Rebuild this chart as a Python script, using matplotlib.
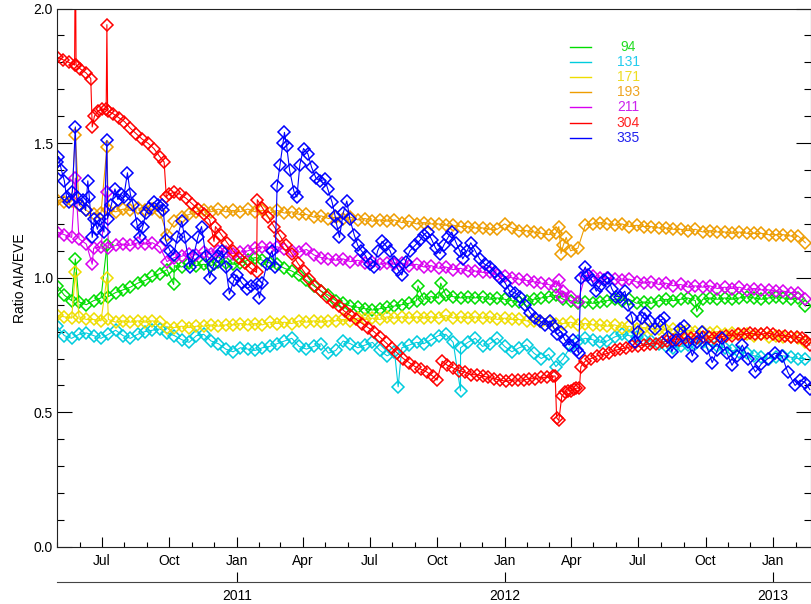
import numpy as np
import pandas as pd
import matplotlib
matplotlib.use("Agg")
import matplotlib.pyplot as plt
import matplotlib.dates as mdates
from matplotlib.ticker import MultipleLocator, FixedLocator

plt.rcParams['font.family'] = ['Liberation Sans', 'DejaVu Sans']

START = pd.Timestamp('2010-05-01')

# regular 10-day sampling dates for the smoother channels
grid_dates = pd.date_range(START, periods=103, freq='10D')

ratio_94 = [0.97, 0.935, 0.915, 0.91, 0.90, 0.915, 0.925, 0.93, 0.945, 0.955,
            0.965, 0.98, 0.99, 1.005, 1.015, 1.03, 1.045, 1.04, 1.055, 1.045,
            1.05, 1.045, 1.06, 1.055, 1.05, 1.055, 1.065, 1.075, 1.065, 1.055,
            1.05, 1.035, 1.025, 1.01, 0.99, 0.97, 0.95, 0.935, 0.915, 0.905,
            0.895, 0.89, 0.885, 0.88, 0.885, 0.89, 0.895, 0.90, 0.905, 0.915,
            0.92, 0.93, 0.925, 0.935, 0.93, 0.925, 0.93, 0.925, 0.93, 0.92,
            0.925, 0.92, 0.915, 0.91, 0.915, 0.92, 0.925, 0.93, 0.935, 0.92,
            0.915, 0.905, 0.91, 0.905, 0.91, 0.915, 0.92, 0.915, 0.92, 0.905,
            0.91, 0.905, 0.915, 0.92, 0.915, 0.92, 0.925, 0.915, 0.92, 0.925,
            0.92, 0.925, 0.92, 0.925, 0.93, 0.925, 0.92, 0.925, 0.93, 0.925,
            0.92, 0.925, 0.895]

ratio_131 = [0.82, 0.785, 0.775, 0.79, 0.795, 0.785, 0.775, 0.79, 0.805, 0.785,
             0.775, 0.79, 0.80, 0.805, 0.81, 0.795, 0.785, 0.77, 0.76, 0.785,
             0.79, 0.765, 0.755, 0.735, 0.725, 0.74, 0.735, 0.73, 0.74, 0.745,
             0.755, 0.765, 0.775, 0.745, 0.735, 0.745, 0.755, 0.72, 0.73, 0.765,
             0.755, 0.74, 0.75, 0.76, 0.73, 0.71, 0.725, 0.74, 0.75, 0.76,
             0.755, 0.77, 0.785, 0.79, 0.76, 0.74, 0.76, 0.775, 0.745, 0.755,
             0.775, 0.745, 0.725, 0.74, 0.75, 0.72, 0.70, 0.715, 0.67, 0.70,
             0.745, 0.765, 0.775, 0.77, 0.76, 0.765, 0.78, 0.79, 0.785, 0.78,
             0.77, 0.765, 0.755, 0.745, 0.74, 0.745, 0.75, 0.755, 0.76, 0.75,
             0.745, 0.74, 0.73, 0.725, 0.72, 0.71, 0.705, 0.70, 0.705, 0.71,
             0.705, 0.70, 0.70]

ratio_171 = [0.86, 0.855, 0.85, 0.855, 0.845, 0.845, 0.84, 0.845, 0.835, 0.84,
             0.835, 0.84, 0.835, 0.84, 0.835, 0.815, 0.815, 0.82, 0.815, 0.82,
             0.82, 0.825, 0.82, 0.825, 0.825, 0.83, 0.825, 0.83, 0.825, 0.835,
             0.83, 0.835, 0.83, 0.84, 0.835, 0.84, 0.835, 0.84, 0.84, 0.845,
             0.84, 0.85, 0.845, 0.85, 0.845, 0.855, 0.85, 0.855, 0.85, 0.855,
             0.85, 0.855, 0.85, 0.86, 0.85, 0.855, 0.85, 0.855, 0.85, 0.855,
             0.845, 0.85, 0.845, 0.845, 0.84, 0.84, 0.835, 0.835, 0.83, 0.83,
             0.835, 0.825, 0.83, 0.825, 0.825, 0.82, 0.825, 0.815, 0.82, 0.81,
             0.815, 0.81, 0.81, 0.805, 0.81, 0.80, 0.805, 0.80, 0.80, 0.795,
             0.80, 0.79, 0.795, 0.79, 0.79, 0.785, 0.79, 0.78, 0.785, 0.78,
             0.78, 0.775, 0.76]

ratio_193 = [1.29, 1.28, 1.285, 1.27, 1.25, 1.235, 1.24, 1.25, 1.245, 1.255,
             1.25, 1.26, 1.25, 1.255, 1.245, 1.16, 1.21, 1.225, 1.235, 1.245,
             1.25, 1.245, 1.255, 1.245, 1.25, 1.245, 1.255, 1.245, 1.25, 1.24,
             1.25, 1.24, 1.245, 1.235, 1.235, 1.225, 1.23, 1.22, 1.225, 1.22,
             1.225, 1.215, 1.22, 1.21, 1.215, 1.21, 1.215, 1.205, 1.21, 1.20,
             1.205, 1.20, 1.20, 1.195, 1.195, 1.19, 1.19, 1.185, 1.185, 1.18,
             1.18, 1.20, 1.185, 1.175, 1.175, 1.17, 1.165, 1.16, 1.165, 1.12,
             1.10, 1.11, 1.195, 1.20, 1.205, 1.20, 1.195, 1.20, 1.19, 1.195,
             1.19, 1.19, 1.185, 1.185, 1.18, 1.18, 1.175, 1.18, 1.17, 1.175,
             1.17, 1.17, 1.165, 1.17, 1.165, 1.165, 1.165, 1.16, 1.16, 1.16,
             1.155, 1.155, 1.13]

ratio_211 = [1.17, 1.16, 1.15, 1.145, 1.125, 1.11, 1.115, 1.11, 1.12, 1.125,
             1.12, 1.13, 1.125, 1.13, 1.115, 1.06, 1.075, 1.08, 1.09, 1.085,
             1.095, 1.09, 1.10, 1.095, 1.09, 1.095, 1.10, 1.11, 1.115, 1.11,
             1.115, 1.105, 1.10, 1.095, 1.105, 1.085, 1.075, 1.07, 1.065, 1.07,
             1.06, 1.065, 1.055, 1.06, 1.05, 1.055, 1.05, 1.055, 1.045, 1.05,
             1.04, 1.045, 1.035, 1.04, 1.03, 1.035, 1.025, 1.025, 1.02, 1.02,
             1.01, 1.005, 1.0, 0.995, 0.99, 0.985, 0.98, 0.975, 0.965, 0.95,
             0.93, 0.91, 1.01, 1.005, 1.0, 1.0, 0.995, 0.99, 0.995, 0.985,
             0.98, 0.985, 0.975, 0.98, 0.97, 0.975, 0.965, 0.97, 0.965, 0.97,
             0.96, 0.965, 0.96, 0.965, 0.955, 0.96, 0.955, 0.955, 0.95, 0.95,
             0.945, 0.945, 0.92]

# isolated single-day outliers: (days after START, ratio)
extra_days_94 = [25, 68, 159, 492, 523, 872]
extra_vals_94 = [1.07, 1.12, 0.975, 0.97, 0.98, 0.875]
extra_days_131 = [465, 550]
extra_vals_131 = [0.595, 0.58]
extra_days_171 = [25, 68]
extra_vals_171 = [1.02, 1.00]
extra_days_193 = [25, 68, 684, 687, 694]
extra_vals_193 = [1.53, 1.485, 1.19, 1.09, 1.15]
extra_days_211 = [25, 48, 68, 684, 688]
extra_vals_211 = [1.37, 1.05, 1.32, 0.99, 0.93]

# channel 304 (days after START, ratio)
days_304 = [0, 8, 16, 24, 25, 26, 32, 40, 46, 48, 51, 56, 62, 67, 68, 69, 76, 84, 92,
            100, 108, 116, 124, 132, 140, 146, 149, 152, 160, 168, 176, 184, 192,
            200, 208, 214, 216, 224, 232, 240, 248, 256, 264, 272,
            273, 280, 288, 296, 304, 312, 320, 328, 336, 344, 352, 360, 368, 376,
            384, 392, 400, 408, 416, 424, 432, 440, 448, 456, 464, 472, 480, 488,
            496, 504, 512, 518,
            525, 532, 540, 548, 556, 564, 572, 580, 588, 596, 604, 612, 620, 628,
            636, 644, 652, 660, 668, 676, 679, 681, 684, 688, 692, 696, 700, 704,
            708, 712,
            714, 720, 728, 736, 744, 752, 760, 768, 776, 784, 792, 800, 808, 816,
            824, 832, 840, 848, 856, 864, 872, 880, 888, 896, 904, 912, 920, 928,
            936, 944, 952, 960, 968, 976, 984, 992, 1000, 1008, 1016, 1021, 1026]
ratio_304 = [1.82, 1.81, 1.80, 1.79, 2.30, 1.79, 1.775, 1.76, 1.74, 1.56, 1.60, 1.62,
             1.625, 1.625, 1.94, 1.62, 1.61, 1.595, 1.58,
             1.555, 1.535, 1.515, 1.50, 1.48, 1.45, 1.43, 1.30, 1.31, 1.318, 1.31,
             1.295, 1.275, 1.255,
             1.235, 1.215, 1.135, 1.19, 1.16, 1.13, 1.10, 1.075, 1.055, 1.035, 1.02,
             1.29, 1.26, 1.225, 1.19, 1.155, 1.12, 1.09, 1.055, 1.025, 0.995, 0.97,
             0.95, 0.93, 0.91,
             0.895, 0.875, 0.86, 0.845, 0.83, 0.815, 0.80, 0.78, 0.76, 0.74, 0.72,
             0.70, 0.685, 0.67,
             0.66, 0.65, 0.635, 0.62,
             0.69, 0.675, 0.665, 0.655, 0.65, 0.64, 0.64, 0.635, 0.63, 0.625, 0.62,
             0.615, 0.62, 0.62,
             0.62, 0.625, 0.625, 0.63, 0.63, 0.635, 0.635, 0.48, 0.47, 0.56, 0.575,
             0.58, 0.58, 0.585,
             0.59, 0.59,
             0.67, 0.69, 0.70, 0.71, 0.715, 0.72, 0.73, 0.735, 0.74, 0.745, 0.745,
             0.75, 0.755, 0.755,
             0.76, 0.765, 0.77, 0.77, 0.775, 0.775, 0.775, 0.78, 0.78, 0.775, 0.78,
             0.785, 0.785, 0.79,
             0.79, 0.795, 0.79, 0.79, 0.795, 0.79, 0.785, 0.785, 0.78, 0.78, 0.775,
             0.765, 0.75]

# channel 335 (days after START, ratio)
days_335 = [0, 2, 6, 10, 13, 17, 21, 25, 27, 31, 35, 39, 42, 44, 48, 51, 55, 59, 64,
            68, 69, 74, 79, 83, 87, 91, 96, 100, 104, 109, 113, 117, 121, 126, 132,
            137, 143, 145, 148, 154, 159, 164, 170, 174, 181, 186, 192, 197, 203,
            208, 214, 219, 225, 230, 235, 241, 245, 252, 259, 265, 272, 276, 280,
            286, 293, 297, 300, 304, 308, 310, 313, 317, 323, 327, 331, 336, 342,
            347, 353, 358, 365, 369, 375, 379, 381, 385, 390, 395, 399, 405, 410,
            415, 421, 426, 432, 437, 443, 448, 454, 459, 465, 470, 475, 481, 488,
            495, 500, 505, 511, 516, 522, 527, 533, 538, 544, 549, 553, 559, 564,
            570, 576, 583, 590, 597, 604, 611, 617, 624, 631, 638, 645, 651, 658,
            665, 672, 676, 681, 687, 692, 698, 703, 709, 711, 714, 720, 724, 729,
            735, 740, 746, 751, 756, 762, 767, 774, 778, 784, 788, 792, 797, 801,
            808, 815, 822, 827, 833, 838, 844, 849, 855, 860, 866, 872, 879, 886,
            893, 900, 906, 913, 920, 927, 934, 942, 952, 960, 969, 979, 988, 996,
            1006, 1013, 1020, 1026]
ratio_335 = [1.43, 1.45, 1.40, 1.36, 1.30, 1.28, 1.32, 1.56, 1.30, 1.27, 1.29, 1.25,
             1.36, 1.30, 1.15, 1.22, 1.18, 1.22, 1.17,
             1.51, 1.22, 1.27, 1.33, 1.29, 1.31, 1.30, 1.39, 1.31, 1.27, 1.20, 1.15,
             1.19, 1.24, 1.26, 1.28,
             1.27, 1.27, 1.25, 1.14, 1.10, 1.085, 1.15, 1.21, 1.15, 1.04, 1.08, 1.15,
             1.19, 1.08,
             1.00, 1.05, 1.08, 1.10, 1.04, 0.94, 0.99, 1.01, 0.98, 0.96, 0.97, 0.975,
             0.925, 0.98,
             1.05, 1.10, 1.04, 1.34, 1.42, 1.50, 1.54, 1.49, 1.40, 1.32, 1.30, 1.42,
             1.48, 1.46,
             1.41, 1.37, 1.36, 1.365, 1.33, 1.28, 1.23, 1.20, 1.15, 1.24, 1.285,
             1.22, 1.16, 1.12,
             1.10, 1.08, 1.05, 1.04, 1.10, 1.135, 1.12, 1.10, 1.06, 1.03, 1.01, 1.06,
             1.10, 1.12,
             1.14, 1.16, 1.17, 1.14, 1.11, 1.09, 1.12, 1.15, 1.17, 1.13, 1.10, 1.07,
             1.10, 1.13,
             1.10, 1.07, 1.05, 1.04, 1.02, 1.00, 0.98, 0.95, 0.945, 0.93, 0.90, 0.87,
             0.85, 0.84,
             0.825, 0.84, 0.82, 0.79, 0.80, 0.77, 0.75, 0.77, 0.73, 0.72, 1.00, 1.04,
             1.01, 0.99,
             0.95, 0.97, 0.99, 1.00, 0.96, 0.93, 0.93, 0.95, 0.90, 0.85, 0.76, 0.80,
             0.85, 0.87,
             0.84, 0.81, 0.84, 0.85, 0.78, 0.725, 0.77, 0.81, 0.82, 0.76, 0.71, 0.76,
             0.80, 0.74,
             0.685, 0.73, 0.775, 0.72, 0.675, 0.71, 0.75, 0.70, 0.65, 0.68, 0.70,
             0.72, 0.71, 0.65,
             0.60, 0.62, 0.61, 0.585]

channels = ['94', '131', '171', '193', '211', '304', '335']
colors = ['#00DD00', '#00CCDD', '#EEDD00', '#EE9D00', '#D800F0', '#FF0000', '#0000FF']
legend_text_colors = ['#22DD22', '#22CCEE', '#EEDD22', '#EEA422', '#CC22EE', '#FF2222', '#2222EE']


def merged(grid_vals, extra_days, extra_vals):
    d = list(grid_dates) + [START + pd.Timedelta(days=k) for k in extra_days]
    v = list(grid_vals) + list(extra_vals)
    s = pd.Series(v, index=pd.DatetimeIndex(d)).sort_index()
    return s.index, s.values


def from_days(days, vals):
    return pd.DatetimeIndex([START + pd.Timedelta(days=k) for k in days]), np.asarray(vals)


series = [
    merged(ratio_94, extra_days_94, extra_vals_94),
    merged(ratio_131, extra_days_131, extra_vals_131),
    merged(ratio_171, extra_days_171, extra_vals_171),
    merged(ratio_193, extra_days_193, extra_vals_193),
    merged(ratio_211, extra_days_211, extra_vals_211),
    from_days(days_304, ratio_304),
    from_days(days_335, ratio_335),
]

W, H = 811, 604
fig = plt.figure(figsize=(W / 100, H / 100), dpi=100)
L, R, T, B = 57, 810.5, 8.5, 547
ax = fig.add_axes([L / W, 1 - B / H, (R - L) / W, (B - T) / H])

for (x, y), c in zip(series, colors):
    ax.plot(x, y, '-', color=c, lw=0.8, marker='D', markersize=6.3,
            markerfacecolor='none', markeredgecolor=c, markeredgewidth=1.1)

ax.set_xlim(pd.Timestamp('2010-05-01'), pd.Timestamp('2013-02-21'))
ax.set_ylim(0, 2.0)

ax.yaxis.set_major_locator(MultipleLocator(0.5))
ax.yaxis.set_minor_locator(MultipleLocator(0.1))
ax.yaxis.set_major_formatter(matplotlib.ticker.FormatStrFormatter('%.1f'))
ax.xaxis.set_major_locator(mdates.MonthLocator(bymonth=[1, 4, 7, 10]))
ax.xaxis.set_minor_locator(mdates.MonthLocator())
ax.xaxis.set_major_formatter(mdates.DateFormatter('%b'))

ax.tick_params(axis='both', which='both', direction='in', top=True, right=True,
               width=0.8, colors='black', labelsize=10)
ax.tick_params(axis='x', which='major', length=7.2, pad=5)
ax.tick_params(axis='x', which='minor', length=3.6)
ax.tick_params(axis='y', which='major', length=10.8, pad=3)
ax.tick_params(axis='y', which='minor', length=5)
for sp in ax.spines.values():
    sp.set_linewidth(0.8)
    sp.set_color('#222222')

ax.set_ylabel('Ratio AIA/EVE', fontsize=10)
ax.yaxis.set_label_coords(-0.040, 0.5)

# year axis below
ax2 = ax.twiny()
ax2.set_xlim(ax.get_xlim())
ax2.xaxis.set_ticks_position('bottom')
ax2.xaxis.set_label_position('bottom')
ax2.spines['bottom'].set_position(('outward', 25.2))
for k in ['top', 'left', 'right']:
    ax2.spines[k].set_visible(False)
ax2.spines['bottom'].set_linewidth(0.8)
ax2.spines['bottom'].set_color('#444444')
ax2.xaxis.set_major_locator(mdates.YearLocator())
ax2.xaxis.set_major_formatter(mdates.DateFormatter('%Y'))
ax2.xaxis.set_minor_locator(FixedLocator([]))
ax2.tick_params(axis='x', which='major', direction='in', length=7.2, width=0.8,
                pad=5, labelsize=10)

# legend
rows_y = [47.3, 62.3, 77.3, 92.3, 107.3, 122.8, 138.0]
for ch, c, tc, py in zip(channels, colors, legend_text_colors, rows_y):
    fy = 1 - (py - T) / (B - T)
    ax.plot([(570 - L) / (R - L), (591 - L) / (R - L)], [fy, fy], color=c, lw=1.0,
            transform=ax.transAxes, clip_on=False)
    ax.text((628 - L) / (R - L), fy, ch, color=tc, fontsize=10, ha='center',
            va='center', transform=ax.transAxes)

fig.savefig('out.png', dpi=100)
